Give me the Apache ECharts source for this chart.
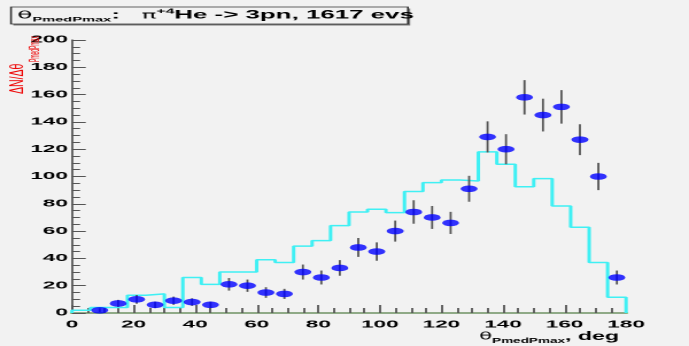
<!DOCTYPE html>
<html>
<head>
<meta charset="utf-8">
<script src="https://cdn.jsdelivr.net/npm/echarts@6/dist/echarts.min.js"></script>
<style>
html,body{margin:0;padding:0;background:#f2f2f2;overflow:hidden;width:689px;height:346px;}
#c{width:300px;height:346px;transform:scaleX(2.29667);transform-origin:0 0;}
</style>
</head>
<body>
<div id="c"></div>
<script>
// bin edges of the simulated histogram (deg)
const binEdges = [0,6,12,18,24,30,36,42,48,54,60,66,72,78,84,90,96,102,108,114,120,126,132,138,144,150,156,162,168,174,180];
// simulated (cyan) histogram contents per bin
const simValues = [2,4,4,13,14,4,26,21,30,30,39,37,49,53,64,74,76,73.5,89,95.5,97.4,96.7,118,109,92.5,98.4,78.4,62.8,37,11.5];
// experimental points: bin centres, counts, errors
const binCenters = [3,9,15,21,27,33,39,45,51,57,63,69,75,81,87,93,99,105,111,117,123,129,135,141,147,153,159,165,171,177];
const expCounts  = [null,2,7,10,6,9,8,6,21,20,15,14,30,26,33,48,45,60,74,70,66,91,129,120,158,145,151,127,100,26];
const expErrors  = [0,1.4,2.6,3.2,2.4,3,2.8,2.4,4.6,4.5,3.9,3.7,5.5,5.1,5.7,6.9,6.7,7.7,8.6,8.4,8.1,9.5,11.4,11,12.6,12,12.3,11.3,10,5.1];
const xTickValues = [0,20,40,60,80,100,120,140,160,180];
const yTickValues = [0,20,40,60,80,100,120,140,160,180,200];

const FONT = '"Liberation Sans", Arial, sans-serif';

const histData = [[binEdges[0], 0]];
for (let i = 0; i < simValues.length; i++) histData.push([binEdges[i], simValues[i]]);
histData.push([binEdges[binEdges.length - 1], simValues[simValues.length - 1]]);
histData.push([binEdges[binEdges.length - 1], 0]);

const pts = [];
const errs = [];
for (let i = 0; i < binCenters.length; i++) {
  if (expCounts[i] == null) continue;
  pts.push([binCenters[i], expCounts[i]]);
  errs.push([binCenters[i], expCounts[i], expErrors[i]]);
}

const chart = echarts.init(document.getElementById('c'), null, {renderer: 'canvas', devicePixelRatio: 2});

const labelStyle = {color: '#000', fontFamily: FONT, fontWeight: 'bold', fontSize: 9.8};

chart.setOption({
  backgroundColor: '#f2f2f2',
  animation: false,
  grid: {left: 31.35, right: 27.4, top: 40, bottom: 33},
  xAxis: [{
    type: 'value', min: 0, max: 180, interval: 20,
    axisLine: {show: true, onZero: false, lineStyle: {color: '#70dd50', width: 2}},
    axisTick: {show: true, inside: true, length: 8, lineStyle: {color: '#555', width: 0.9}},
    minorTick: {show: true, splitNumber: 4, length: 5, lineStyle: {color: '#555', width: 0.9}},
    splitLine: {show: false},
    axisLabel: Object.assign({margin: 7, formatter: v => xTickValues.includes(v) ? String(v) : ''}, labelStyle)
  }, {
    type: 'value', min: 0, max: 180, position: 'top',
    axisLine: {show: true, lineStyle: {color: '#999', width: 1.5}},
    axisTick: {show: false}, axisLabel: {show: false}, splitLine: {show: false}
  }],
  yAxis: [{
    type: 'value', min: 0, max: 200, interval: 20,
    axisLine: {show: true, onZero: false, lineStyle: {color: '#000', width: 0.8}},
    axisTick: {show: true, inside: true, length: 6, lineStyle: {color: '#555', width: 1}},
    minorTick: {show: true, splitNumber: 4, length: 3.5, lineStyle: {color: '#555', width: 1}},
    splitLine: {show: false},
    axisLabel: Object.assign({margin: 1.8, formatter: v => yTickValues.includes(v) ? String(v) : ''}, labelStyle)
  }, {
    type: 'value', min: 0, max: 200, position: 'right',
    axisLine: {show: true, lineStyle: {color: '#666', width: 1}},
    axisTick: {show: false}, axisLabel: {show: false}, splitLine: {show: false}
  }],
  series: [{
    type: 'line', step: 'end', data: histData, symbol: 'none',
    lineStyle: {color: '#3ff0f4', width: 1.5}, z: 2
  }, {
    type: 'custom', data: errs, z: 3,
    renderItem: (params, api) => {
      const x = api.value(0), y = api.value(1), e = api.value(2);
      const a = api.coord([x, y + e]);
      const b = api.coord([x, Math.max(0, y - e)]);
      return {type: 'line', shape: {x1: a[0], y1: a[1], x2: b[0], y2: b[1]},
              style: {stroke: '#555', lineWidth: 0.9}};
    }
  }, {
    type: 'scatter', data: pts, symbol: 'circle', symbolSize: [7.4, 6.6],
    itemStyle: {color: '#0000ff'}, z: 4
  }],
  graphic: [
    {type: 'rect', shape: {x: 5.8, y: 8.5, width: 172.8, height: 17}, style: {fill: '#777'}, z: 10},
    {type: 'rect', shape: {x: 4.8, y: 7, width: 172.8, height: 17}, style: {fill: '#f2f2f2', stroke: '#333', lineWidth: 0.8}, z: 11},
    {type: 'text', x: 7.5, y: 15.5, z: 12, scaleX: 0.98,
      style: {
        text: '{g|θ}{s|PmedPmax}{m|:   }{g|π}{p|+4}{m|He -> 3pn, 1617 evs}',
        verticalAlign: 'middle', align: 'left',
        rich: {
          m: {fontSize: 11.5, fontWeight: 'bold', fontFamily: FONT, fill: '#000', verticalAlign: 'middle', lineHeight: 15},
          g: {fontSize: 11, fontFamily: '"DejaVu Sans", sans-serif', fill: '#000', verticalAlign: 'middle', lineHeight: 15},
          s: {fontSize: 6.5, fontWeight: 'bold', fontFamily: FONT, fill: '#000', verticalAlign: 'bottom', lineHeight: 15},
          p: {fontSize: 7, fontWeight: 'bold', fontFamily: FONT, fill: '#000', verticalAlign: 'top', lineHeight: 15}
        }
      }
    },
    {type: 'text', x: 269.5, y: 336.5, z: 12, scaleX: 0.84,
      style: {
        text: '{g|θ}{s|PmedPmax}{m|, deg}',
        verticalAlign: 'middle', align: 'right',
        rich: {
          m: {fontSize: 12, fontWeight: 'bold', fontFamily: FONT, fill: '#000', verticalAlign: 'middle', lineHeight: 16},
          g: {fontSize: 11, fontFamily: '"DejaVu Sans", sans-serif', fill: '#000', verticalAlign: 'middle', lineHeight: 16},
          s: {fontSize: 7, fontWeight: 'bold', fontFamily: FONT, fill: '#000', verticalAlign: 'bottom', lineHeight: 16}
        }
      }
    },
    {type: 'text', x: 7.6, y: 94, rotation: Math.PI / 2, scaleY: 0.75, z: 12,
      style: {text: 'ΔN/Δθ', fill: '#ee0000', fontSize: 10.5, fontFamily: FONT, align: 'left', verticalAlign: 'middle'}},
    {type: 'text', x: 15.3, y: 62, rotation: Math.PI / 2, scaleY: 1.3, z: 12,
      style: {text: 'PmedPmax', fill: '#ee0000', fontSize: 5, fontFamily: FONT, align: 'left', verticalAlign: 'middle'}}
  ]
});
</script>
</body>
</html>
